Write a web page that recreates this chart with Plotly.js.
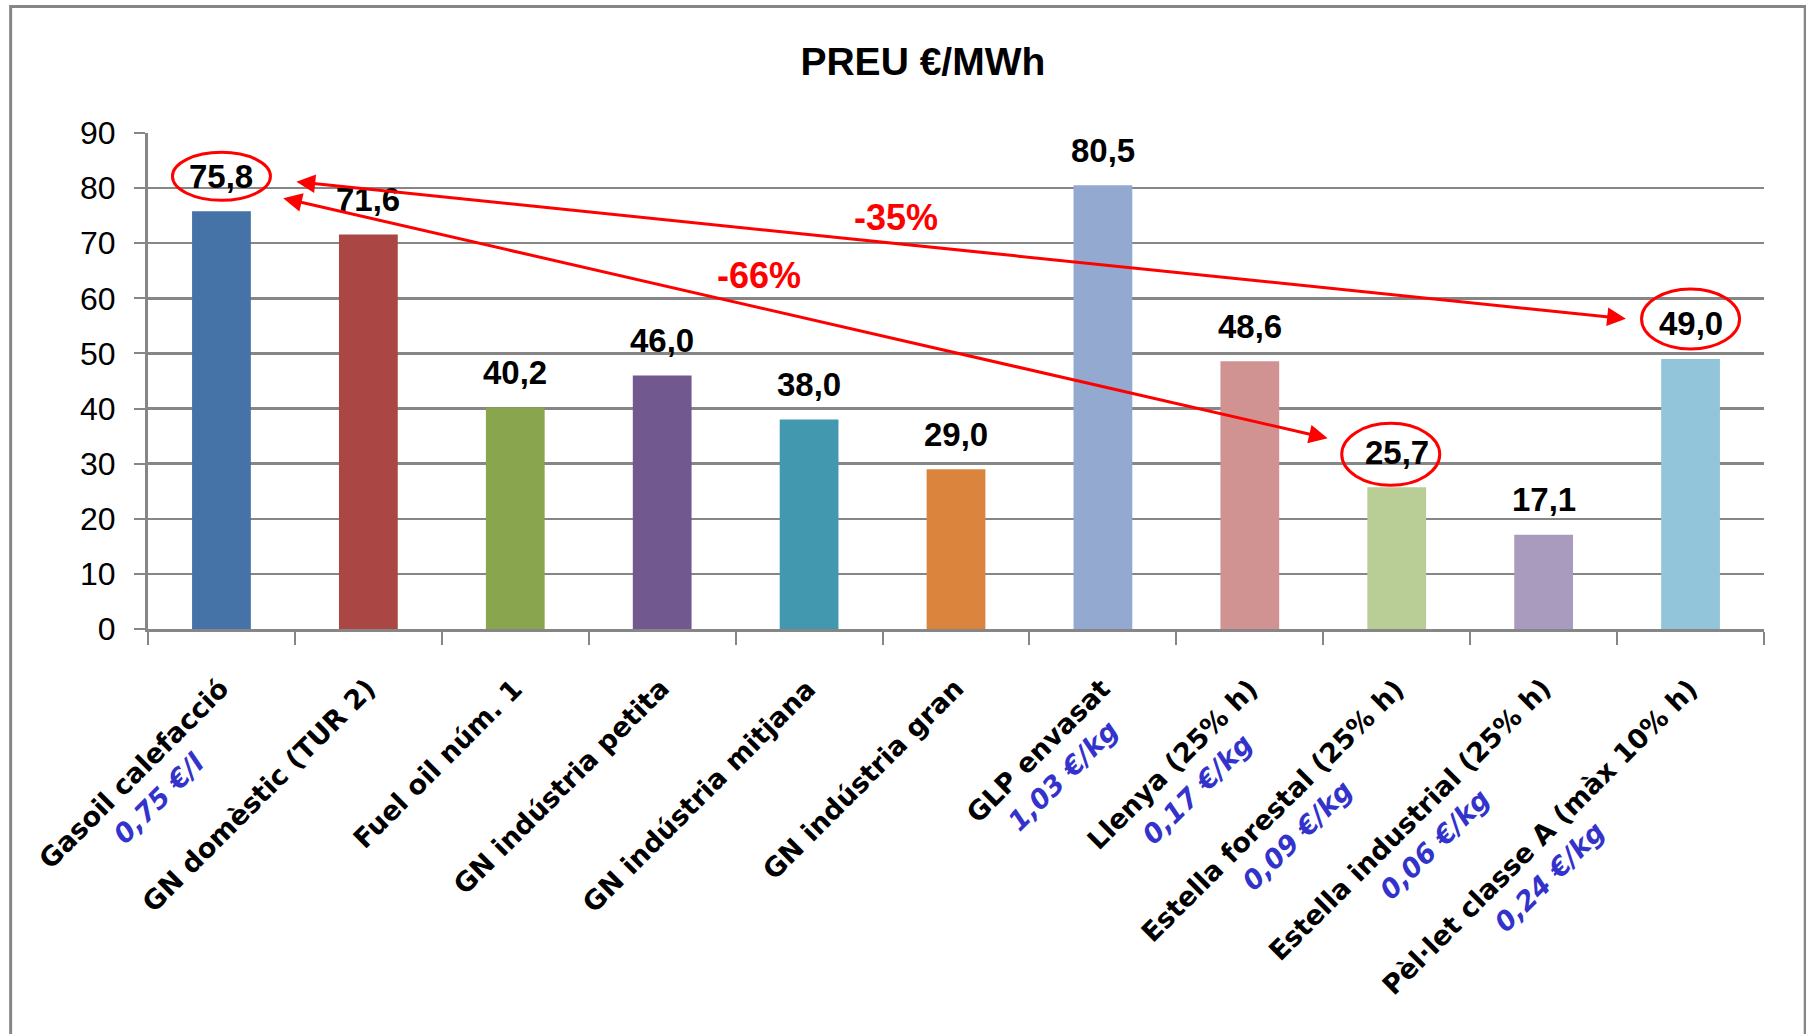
<!DOCTYPE html>
<html>
<head>
<meta charset="utf-8">
<script src="https://cdn.plot.ly/plotly-3.0.1.min.js"></script>
<style>
html,body{margin:0;padding:0;background:#ffffff;}
#chart{width:1806px;height:1034px;}
</style>
</head>
<body>
<div id="chart"></div>
<script>
// ---------- data ----------
const categories = [
  "Gasoil calefacció",
  "GN domèstic (TUR 2)",
  "Fuel oil núm. 1",
  "GN indústria petita",
  "GN indústria mitjana",
  "GN indústria gran",
  "GLP envasat",
  "Llenya (25% h)",
  "Estella forestal (25% h)",
  "Estella industrial (25% h)",
  "Pèl·let classe A (màx 10% h)"
];
const unitPrices = ["0,75 €/l", "", "", "", "", "", "1,03 €/kg", "0,17 €/kg", "0,09 €/kg", "0,06 €/kg", "0,24 €/kg"];
const values = [75.8, 71.6, 40.2, 46.0, 38.0, 29.0, 80.5, 48.6, 25.7, 17.1, 49.0];
const barColors = ["#4572A7", "#AA4643", "#89A54E", "#71588F", "#4198AF", "#DB843D",
                   "#93A9CF", "#D19392", "#B9CD96", "#A99BBD", "#92C5D9"];
const yTicks = [0, 10, 20, 30, 40, 50, 60, 70, 80, 90];
const highlighted = [0, 8, 10];
const changeLabels = ["-35%", "-66%"];

// ---------- styles ----------
const GRAY = "#868686";
const LABEL_FONT = "Liberation Sans, Arial, sans-serif";
const CAT_FONT = "DejaVu Sans, Verdana, sans-serif";
const fmt = v => v.toFixed(1).replace(".", ",");
const line2Pad = {10: 5};   // small visual offset of the second line, as in the original

const trace = {
  type: "bar",
  x: categories,
  y: values,
  width: 0.4,
  marker: {color: barColors, line: {width: 0}},
  hoverinfo: "none"
};

const annotations = [];

// value labels above bars
categories.forEach((c, i) => {
  annotations.push({
    x: c, y: values[i], xref: "x", yref: "y",
    text: "<b>" + fmt(values[i]) + "</b>",
    showarrow: false, yanchor: "middle", xanchor: "center", yshift: 35,
    font: {family: LABEL_FONT, size: 33, color: "#000000"}
  });
});

// rotated category labels (centered multi-line, like the original)
categories.forEach((c, i) => {
  const two = unitPrices[i] !== "";
  const pad = "\u00a0".repeat(line2Pad[i] || 0);
  const txt = "<b>" + c + "</b>" + (two ? "<br><b><i><span style='color:#3333cc'>" + unitPrices[i] + "</span></i></b>" + pad : "");
  annotations.push({
    x: c, y: 0, xref: "x", yref: "y",
    text: txt, showarrow: false, textangle: -45, align: "center",
    xanchor: "right", yanchor: "top",
    xshift: two ? 38 : 13, yshift: -44,
    borderpad: 0, borderwidth: 0,
    font: {family: CAT_FONT, size: 27, color: "#000000"}
  });
});

// double-headed arrows
annotations.push({
  x: 9.56, y: 56.3, ax: 0.49, ay: 81.2, xref: "x", yref: "y", axref: "x", ayref: "y",
  text: " ", showarrow: true, arrowside: "end+start", arrowhead: 2, startarrowhead: 2,
  arrowsize: 1.25, startarrowsize: 1.25, arrowwidth: 3, arrowcolor: "#ff0000", standoff: 0, startstandoff: 0
});
annotations.push({
  x: 7.53, y: 34.6, ax: 0.40, ay: 78.3, xref: "x", yref: "y", axref: "x", ayref: "y",
  text: " ", showarrow: true, arrowside: "end+start", arrowhead: 2, startarrowhead: 2,
  arrowsize: 1.25, startarrowsize: 1.25, arrowwidth: 3, arrowcolor: "#ff0000", standoff: 0, startstandoff: 0
});
annotations.push({
  x: 4.59, y: 74.6, xref: "x", yref: "y", text: "<b>" + changeLabels[0] + "</b>", showarrow: false,
  font: {family: LABEL_FONT, size: 36, color: "#ff0000"}
});
annotations.push({
  x: 3.66, y: 64.1, xref: "x", yref: "y", text: "<b>" + changeLabels[1] + "</b>", showarrow: false,
  font: {family: LABEL_FONT, size: 36, color: "#ff0000"}
});

// shapes: outer border + highlight ellipses
const shapes = [{
  type: "rect", xref: "paper", yref: "paper",
  x0: -0.085, x1: 1.0255, y0: -0.9, y1: 1.255,
  line: {color: GRAY, width: 3}, fillcolor: "rgba(0,0,0,0)", layer: "below"
}];
const ellipseGeom = {0: {dx: 0, dy: 35, rx: 49, ry: 24}, 8: {dx: -6, dy: 33, rx: 49, ry: 31}, 10: {dx: 0, dy: 40, rx: 49, ry: 30}};
highlighted.forEach(i => {
  const g = ellipseGeom[i];
  shapes.push({
    type: "circle", xref: "x", yref: "y", xsizemode: "pixel", ysizemode: "pixel",
    xanchor: i, yanchor: values[i],
    x0: g.dx - g.rx, x1: g.dx + g.rx, y0: g.dy - g.ry, y1: g.dy + g.ry,
    line: {color: "#ff0000", width: 3}
  });
});

const layout = {
  width: 1806, height: 1034,
  margin: {l: 148, r: 42, t: 133, b: 405, pad: 0},
  paper_bgcolor: "#ffffff", plot_bgcolor: "#ffffff",
  showlegend: false,
  title: {
    text: "<b>PREU €/MWh</b>",
    font: {family: LABEL_FONT, size: 39, color: "#000000"},
    xref: "paper", x: 0.4795, xanchor: "center",
    yref: "container", y: 0.941, yanchor: "middle"
  },
  xaxis: {
    type: "category", range: [-0.5, 10.5],
    showline: true, linecolor: GRAY, linewidth: 3,
    ticks: "outside", tickson: "boundaries", ticklen: 13, tickwidth: 2, tickcolor: GRAY,
    showticklabels: false, showgrid: false, zeroline: false, fixedrange: true
  },
  yaxis: {
    range: [0, 90], tickvals: yTicks, ticktext: yTicks.map(String),
    ticks: "outside", ticklen: 11, tickwidth: 2, tickcolor: GRAY,
    showline: true, linecolor: GRAY, linewidth: 3,
    showgrid: true, gridcolor: GRAY, gridwidth: 2.5, zeroline: false,
    tickfont: {family: LABEL_FONT, size: 32, color: "#000000"},
    ticklabelstandoff: 12, fixedrange: true
  },
  annotations: annotations,
  shapes: shapes
};

Plotly.newPlot("chart", [trace], layout, {staticPlot: true, displayModeBar: false});
</script>
</body>
</html>
